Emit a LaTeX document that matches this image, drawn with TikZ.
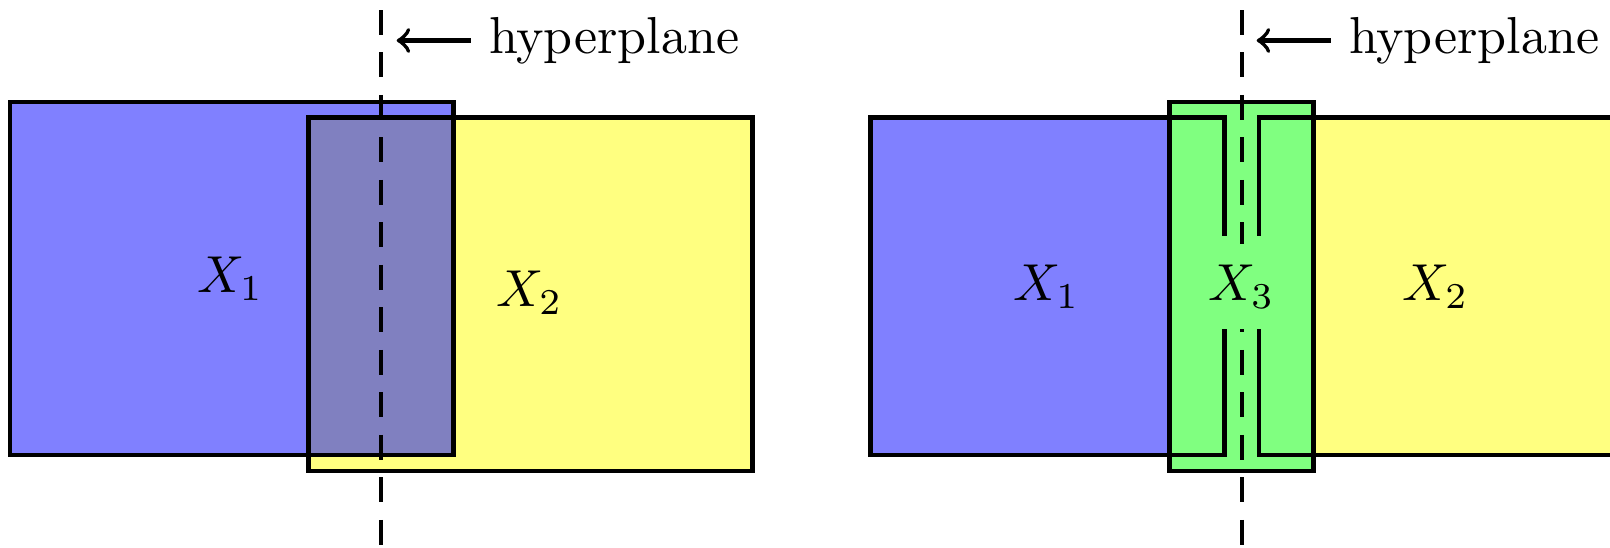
\documentclass[tikz,border=0pt]{standalone}
\usepackage{tikz}
\definecolor{bluefill}{RGB}{128,128,255}
\definecolor{yellowfill}{RGB}{255,255,128}
\definecolor{greenfill}{RGB}{128,255,128}
\definecolor{overlapfill}{RGB}{128,128,192}
\begin{document}
\begin{tikzpicture}[x=0.19231pt,y=-0.19231pt,
  box/.style={draw=black, line width=0.8pt},
  hyper/.style={draw=black, line width=0.8pt, dash pattern=on 4.8pt off 3.37pt},
  pointer/.style={draw=black, line width=0.8pt, ->},
  lbl/.style={anchor=center}]
\useasboundingbox (0,0) rectangle (1610,547);
\clip (0,0) rectangle (1610,547);

% ---------- left panel ----------
\fill[bluefill] (9.7,102) rectangle (453.5,455);
\fill[yellowfill] (308.5,117.5) rectangle (752.5,471);
\fill[overlapfill] (308.5,117.5) rectangle (453.5,455);
\draw[box] (9.7,102) rectangle (453.5,455);
\draw[box] (308.5,117.5) rectangle (752.5,471);

\node[lbl] (X1a) at (230.3,279) {$X_1$};
\node[lbl] (X2a) at (529.5,293) {$X_2$};

\coordinate (hpAtop) at (381,10);
\coordinate (hpAbot) at (381,570);
\draw[hyper] (hpAtop) -- (hpAbot);
\node[anchor=west] (hpA) at (470.7,40.5) {hyperplane};
\coordinate (hpAtip) at (396.7,40.5);
\draw[pointer] (hpA.west) -- (hpAtip);

% ---------- right panel ----------
\fill[bluefill] (870.5,117.5) rectangle (1224.5,455);
\fill[yellowfill] (1258.8,117.5) rectangle (1630,455);
\filldraw[fill=greenfill, box] (1169.5,102) rectangle (1313.5,471);
\draw[box] (1224.5,235.5) -- (1224.5,117.5) -- (870.5,117.5) -- (870.5,455) -- (1224.5,455) -- (1224.5,322);
\draw[box] (1258.8,235.5) -- (1258.8,117.5) -- (1630,117.5);
\draw[box] (1630,455) -- (1258.8,455) -- (1258.8,322);

\node[lbl] (X1b) at (1046.5,286.4) {$X_1$};
\node[lbl] (X2b) at (1435.5,286.4) {$X_2$};

\coordinate (hpBtop) at (1241.8,10);
\coordinate (hpBbot) at (1241.8,570);
\draw[hyper] (hpBtop) -- (hpBbot);
\node[lbl, fill=greenfill, inner sep=4pt] (X3b) at (1241.5,286.4) {$X_3$};
\node[anchor=west] (hpB) at (1330.7,40.5) {hyperplane};
\coordinate (hpBtip) at (1256.7,40.5);
\draw[pointer] (hpB.west) -- (hpBtip);
\end{tikzpicture}
\end{document}
